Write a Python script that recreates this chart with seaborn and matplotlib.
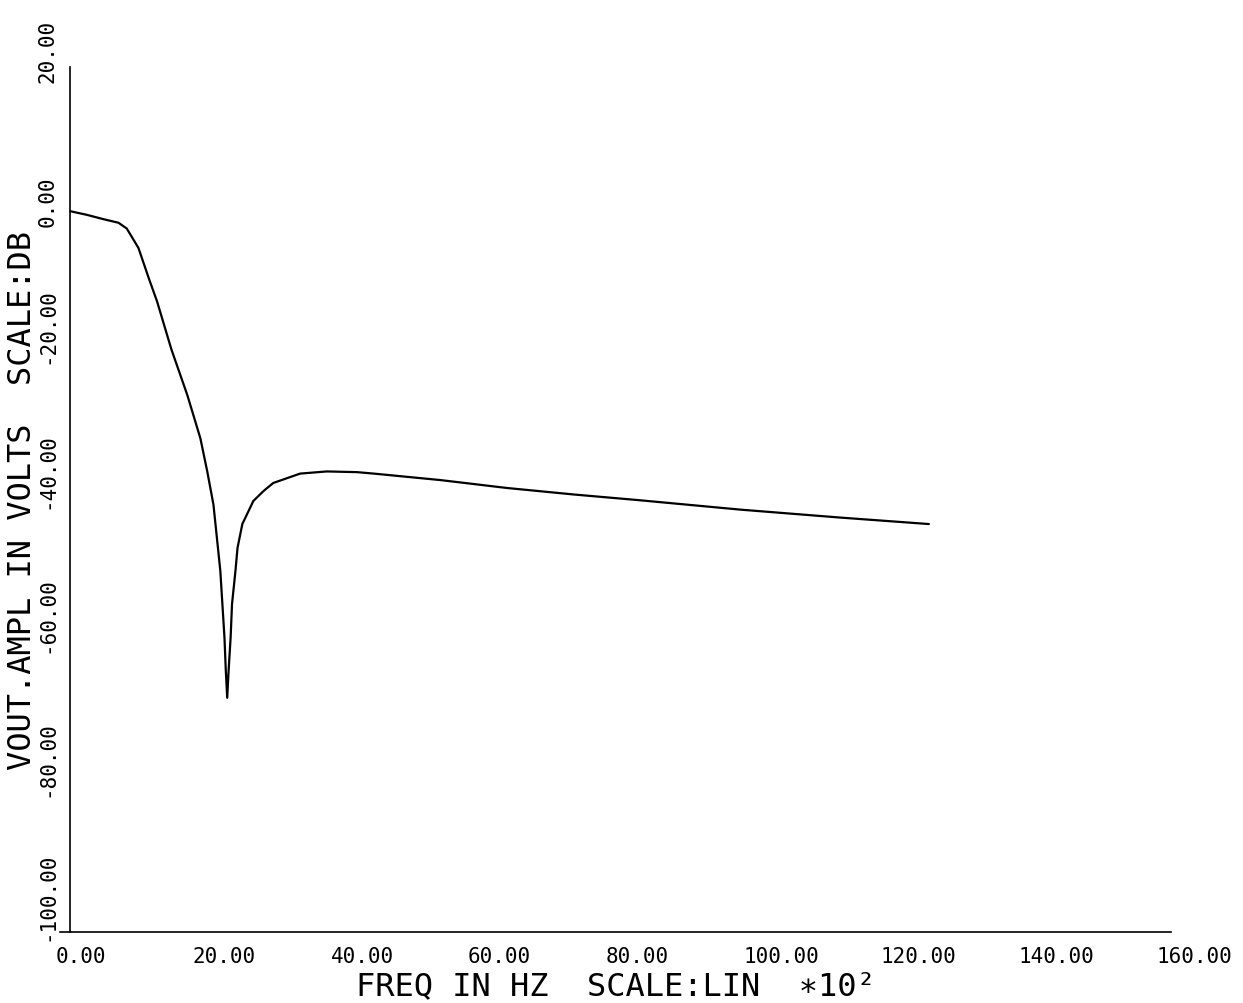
import numpy as np
import matplotlib
matplotlib.use('Agg')
import matplotlib.pyplot as plt
import matplotlib.transforms as mtransforms
import seaborn as sns

# frequency (x 10^2 Hz) and output amplitude (dB)
freq = [0.0, 2.4, 4.8, 7.0, 8.2, 9.9, 11.4, 12.6, 14.7, 17.0, 18.9, 19.9,
        20.8, 21.3, 21.8, 22.1, 22.4, 22.6, 22.8, 23.0, 23.3, 23.5, 24.0,
        24.3, 25.0, 26.6, 28.1, 29.5, 33.4, 37.3, 41.7, 44.1, 53.8, 63.5,
        73.2, 82.8, 97.4, 111.9, 124.8]
vout_db = [0.0, -0.5, -1.1, -1.6, -2.4, -5.1, -9.3, -12.5, -19.2, -25.5, -31.5, -36.1,
           -40.7, -45.3, -49.9, -54.5, -59.1, -63.8, -67.5, -63.8, -59.1, -54.5, -49.9,
           -46.7, -43.4, -40.2, -38.8, -37.7, -36.4, -36.1, -36.2, -36.4, -37.3, -38.4,
           -39.3, -40.1, -41.4, -42.5, -43.4]

x_ticks = [0, 20, 40, 60, 80, 100, 120, 140, 160]
x_ticklabels = ['0.00', '20.00', '40.00', '60.00', '80.00', '100.00', '120.00', '140.00', '160.00']
y_ticks = [-100, -80, -60, -40, -20, 0, 20]
y_ticklabels = ['-100.00', '-80.00', '-60.00', '-40.00', '-20.00', '0.00', '20.00']

sns.set_style('white')
plt.rcParams['font.family'] = ['DejaVu Sans Mono', 'DejaVu Sans']

fig = plt.figure(figsize=(12.43, 10.04), dpi=100)
ax = fig.add_axes([0.0483, 0.0707, 0.8938, 0.8615])

sns.lineplot(x=freq, y=vout_db, sort=False, estimator=None, color='black',
             linewidth=1.6, ax=ax)

ax.set_xlim(-1.5, 160)
ax.set_ylim(-100, 20)
ax.spines['left'].set_position(('data', 0))
ax.spines['top'].set_visible(False)
ax.spines['right'].set_visible(False)
for s in ['left', 'bottom']:
    ax.spines[s].set_color('black')
    ax.spines[s].set_linewidth(1.2)

ax.set_xticks(x_ticks)
ax.set_xticklabels(x_ticklabels, fontsize=15, ha='left')
ax.set_yticks(y_ticks)
ax.set_yticklabels(y_ticklabels, fontsize=15, rotation=90, va='bottom')
ax.tick_params(axis='x', direction='in', length=6, width=1, pad=10, colors='black')
ax.tick_params(axis='y', direction='out', length=6, width=1, pad=3, colors='black')

# plotter-style label placement
for lab in ax.get_xticklabels():
    lab.set_transform(lab.get_transform() +
                      mtransforms.ScaledTranslation(-15 / 100, 0, fig.dpi_scale_trans))
for lab in ax.get_yticklabels():
    dy = -15 if not lab.get_text().startswith('-') else -8
    lab.set_transform(lab.get_transform() +
                      mtransforms.ScaledTranslation(0, dy / 100, fig.dpi_scale_trans))

ax.set_xlabel('FREQ IN HZ  SCALE:LIN  ∗10²', fontsize=23, labelpad=3, color='black')
ax.set_ylabel('VOUT.AMPL IN VOLTS  SCALE:DB', fontsize=23, labelpad=0, color='black')

fig.savefig('out.png', dpi=100, facecolor='white')
